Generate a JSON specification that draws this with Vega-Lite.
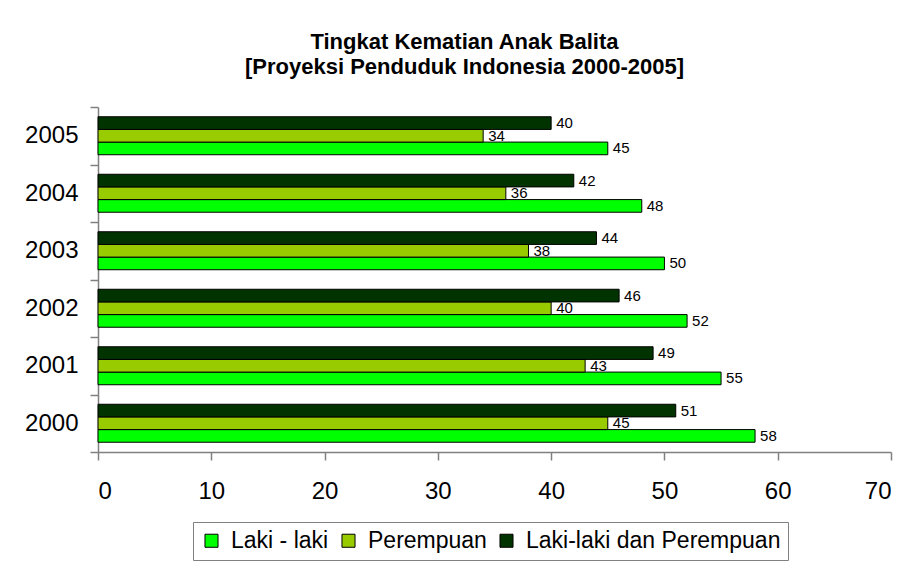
{
  "$schema": "https://vega.github.io/schema/vega-lite/v6.json",
  "width": 793,
  "height": 345,
  "autosize": "none",
  "padding": {"left": 98, "top": 107, "right": 17, "bottom": 109},
  "background": "white",
  "title": {
    "text": ["Tingkat Kematian Anak Balita", "[Proyeksi Penduduk Indonesia 2000-2005]"],
    "font": "Liberation Sans",
    "fontSize": 22,
    "fontWeight": "bold",
    "color": "black",
    "lineHeight": 25,
    "anchor": "middle",
    "dx": -30,
    "offset": 16
  },
  "data": {
    "values": [
      {"tahun": "2005", "kelompok": "Laki - laki", "nilai": 45},
      {"tahun": "2005", "kelompok": "Perempuan", "nilai": 34},
      {"tahun": "2005", "kelompok": "Laki-laki dan Perempuan", "nilai": 40},
      {"tahun": "2004", "kelompok": "Laki - laki", "nilai": 48},
      {"tahun": "2004", "kelompok": "Perempuan", "nilai": 36},
      {"tahun": "2004", "kelompok": "Laki-laki dan Perempuan", "nilai": 42},
      {"tahun": "2003", "kelompok": "Laki - laki", "nilai": 50},
      {"tahun": "2003", "kelompok": "Perempuan", "nilai": 38},
      {"tahun": "2003", "kelompok": "Laki-laki dan Perempuan", "nilai": 44},
      {"tahun": "2002", "kelompok": "Laki - laki", "nilai": 52},
      {"tahun": "2002", "kelompok": "Perempuan", "nilai": 40},
      {"tahun": "2002", "kelompok": "Laki-laki dan Perempuan", "nilai": 46},
      {"tahun": "2001", "kelompok": "Laki - laki", "nilai": 55},
      {"tahun": "2001", "kelompok": "Perempuan", "nilai": 43},
      {"tahun": "2001", "kelompok": "Laki-laki dan Perempuan", "nilai": 49},
      {"tahun": "2000", "kelompok": "Laki - laki", "nilai": 58},
      {"tahun": "2000", "kelompok": "Perempuan", "nilai": 45},
      {"tahun": "2000", "kelompok": "Laki-laki dan Perempuan", "nilai": 51}
    ]
  },
  "encoding": {
    "y": {
      "field": "tahun",
      "type": "nominal",
      "sort": "descending",
      "scale": {"paddingInner": 0, "paddingOuter": 0},
      "axis": {
        "title": null,
        "tickBand": "extent",
        "labelFontSize": 24,
        "labelFont": "Liberation Sans",
        "labelColor": "black",
        "labelPadding": 12,
        "tickSize": 8,
        "tickColor": "#808080",
        "domainColor": "#808080",
        "tickWidth": 1.5,
        "domainWidth": 1.5,
        "grid": false
      }
    },
    "yOffset": {
      "field": "kelompok",
      "type": "nominal",
      "sort": ["Laki-laki dan Perempuan", "Perempuan", "Laki - laki"],
      "scale": {"paddingInner": 0, "paddingOuter": 0.77}
    },
    "x": {
      "field": "nilai",
      "type": "quantitative",
      "scale": {"domain": [0, 70], "nice": false},
      "axis": {
        "title": null,
        "values": [0, 10, 20, 30, 40, 50, 60, 70],
        "labelFontSize": 24,
        "labelFont": "Liberation Sans",
        "labelColor": "black",
        "labelPadding": 19,
        "tickSize": 8,
        "tickColor": "#808080",
        "domainColor": "#808080",
        "tickWidth": 1.5,
        "domainWidth": 1.5,
        "grid": false
      }
    }
  },
  "layer": [
    {
      "mark": {"type": "bar", "stroke": "black", "strokeWidth": 1},
      "encoding": {
        "color": {
          "field": "kelompok",
          "type": "nominal",
          "scale": {
            "domain": ["Laki - laki", "Perempuan", "Laki-laki dan Perempuan"],
            "range": ["#00FF00", "#99CC00", "#003300"]
          },
          "legend": {
            "title": null,
            "orient": "none",
            "direction": "horizontal",
            "legendX": 95,
            "legendY": 415,
            "labelFontSize": 23,
            "labelFont": "Liberation Sans",
            "labelColor": "black",
            "labelLimit": 500,
            "symbolType": "square",
            "symbolSize": 170,
            "symbolStrokeColor": "black",
            "symbolStrokeWidth": 1,
            "symbolOpacity": 1,
            "labelOffset": 8,
            "columnPadding": 8,
            "padding": 7,
            "strokeColor": "#808080",
            "fillColor": "white"
          }
        }
      }
    },
    {
      "mark": {"type": "text", "align": "left", "baseline": "middle", "dx": 5, "fontSize": 15, "font": "Liberation Sans", "color": "black"},
      "encoding": {
        "text": {"field": "nilai", "type": "quantitative"}
      }
    }
  ],
  "config": {
    "view": {"stroke": null}
  }
}
